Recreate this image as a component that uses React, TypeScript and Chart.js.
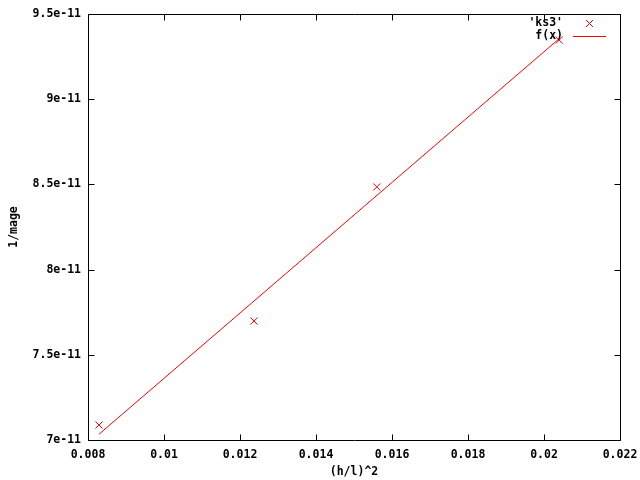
import React, { useEffect, useRef } from "react";
import { Chart, registerables } from "chart.js";

Chart.register(...registerables);

// Data
const dataX = [0.00829, 0.01237, 0.0156, 0.0204];
const dataY = [7.088e-11, 7.698e-11, 8.485e-11, 9.347e-11];
const fitX = [0.00829, 0.0204];
const fitY = [7.034e-11, 9.355e-11];

const xTickValues = [0.008, 0.01, 0.012, 0.014, 0.016, 0.018, 0.02, 0.022];
const xTickLabels = ["0.008", "0.01", "0.012", "0.014", "0.016", "0.018", "0.02", "0.022"];
const yTickValues = [7e-11, 7.5e-11, 8e-11, 8.5e-11, 9e-11, 9.5e-11];
const yTickLabels = ["7e-11", "7.5e-11", "8e-11", "8.5e-11", "9e-11", "9.5e-11"];

const seriesLabels = ["'ks3'", "f(x)"];
const xTitle = "(h/l)^2";
const yTitle = "1/mage";

const RED = "#ff0000";
const FONT_FAMILY = "'DejaVu Sans Mono', monospace";
const font = { family: FONT_FAMILY, size: 11.5, weight: "bold" as const };

const framePlugin = {
  id: "gnuFrame",
  afterDraw(chart: any) {
    const { ctx, chartArea } = chart;
    const { left, right, top, bottom } = chartArea;
    const xs = chart.scales.x;
    const ys = chart.scales.y;
    const tl = 6;
    ctx.save();
    ctx.strokeStyle = "#000";
    ctx.lineWidth = 1;
    const L = Math.round(left) + 0.5;
    const R = Math.round(right) + 0.5;
    const T = Math.round(top) + 0.5;
    const B = Math.round(bottom) + 0.5;
    ctx.beginPath();
    ctx.rect(L, T, R - L, B - T);
    ctx.stroke();
    ctx.beginPath();
    xTickValues.forEach((v) => {
      const px = Math.round(xs.getPixelForValue(v)) + 0.5;
      ctx.moveTo(px, B);
      ctx.lineTo(px, B - tl);
      ctx.moveTo(px, T);
      ctx.lineTo(px, T + tl);
    });
    yTickValues.forEach((v) => {
      const py = Math.round(ys.getPixelForValue(v)) + 0.5;
      ctx.moveTo(L, py);
      ctx.lineTo(L + tl, py);
      ctx.moveTo(R, py);
      ctx.lineTo(R - tl, py);
    });
    ctx.stroke();

    // legend
    ctx.font = `bold ${font.size}px ${FONT_FAMILY}`;
    ctx.fillStyle = "#000";
    ctx.textAlign = "right";
    ctx.textBaseline = "middle";
    const ds = chart.data.datasets;
    const textRight = 563;
    const row1 = 23.5;
    const row2 = 36.5;
    ctx.fillText(ds[0].label, textRight, row1);
    ctx.fillText(ds[1].label, textRight, row2);
    ctx.strokeStyle = RED;
    ctx.beginPath();
    const cx = 589.5;
    const h = 3.5;
    ctx.moveTo(cx - h, row1 - h);
    ctx.lineTo(cx + h, row1 + h);
    ctx.moveTo(cx - h, row1 + h);
    ctx.lineTo(cx + h, row1 - h);
    ctx.moveTo(573, row2);
    ctx.lineTo(606, row2);
    ctx.stroke();
    ctx.restore();
  },
};

export default function App() {
  const canvasRef = useRef<HTMLCanvasElement | null>(null);

  useEffect(() => {
    if (!canvasRef.current) return;
    const chart = new Chart(canvasRef.current, {
      type: "scatter",
      data: {
        datasets: [
          {
            label: seriesLabels[0],
            data: dataX.map((x, i) => ({ x, y: dataY[i] })),
            pointStyle: "crossRot",
            pointRadius: 5,
            pointBorderWidth: 1,
            borderColor: RED,
            backgroundColor: RED,
            showLine: false,
          },
          {
            label: seriesLabels[1],
            data: fitX.map((x, i) => ({ x, y: fitY[i] })),
            showLine: true,
            pointRadius: 0,
            borderColor: RED,
            borderWidth: 1,
            fill: false,
          },
        ],
      },
      options: {
        animation: false,
        responsive: false,
        layout: { padding: { top: 14, right: 20, left: 0, bottom: 0 } },
        plugins: {
          legend: { display: false },
          tooltip: { enabled: false },
        },
        scales: {
          x: {
            type: "linear",
            min: 0.008,
            max: 0.022,
            afterBuildTicks: (s: any) => {
              s.ticks = xTickValues.map((v) => ({ value: v }));
            },
            afterFit: (s: any) => {
              s.height = 40;
              s.paddingLeft = 0;
              s.paddingRight = 0;
            },
            ticks: {
              callback: (_v: any, i: number) => xTickLabels[i],
              font,
              color: "#000",
              padding: 8,
              maxRotation: 0,
              autoSkip: false,
            },
            grid: { display: false, drawTicks: false },
            border: { display: false },
            title: {
              display: true,
              text: xTitle,
              font,
              color: "#000",
              padding: { top: 0, bottom: 1 },
            },
          },
          y: {
            type: "linear",
            min: 7e-11,
            max: 9.5e-11,
            afterBuildTicks: (s: any) => {
              s.ticks = yTickValues.map((v) => ({ value: v }));
            },
            afterFit: (s: any) => {
              s.width = 88;
              s.paddingTop = 0;
              s.paddingBottom = 0;
            },
            ticks: {
              callback: (_v: any, i: number) => yTickLabels[i],
              font,
              color: "#000",
              padding: 7,
              autoSkip: false,
            },
            grid: { display: false, drawTicks: false },
            border: { display: false },
            title: {
              display: true,
              text: yTitle,
              font,
              color: "#000",
              padding: { top: 7, bottom: 0 },
            },
          },
        },
      },
      plugins: [framePlugin],
    } as any);
    return () => chart.destroy();
  }, []);

  return (
    <div style={{ position: "fixed", left: 0, top: 0, width: 640, height: 480, background: "#fff" }}>
      <canvas ref={canvasRef} width={640} height={480} />
    </div>
  );
}
